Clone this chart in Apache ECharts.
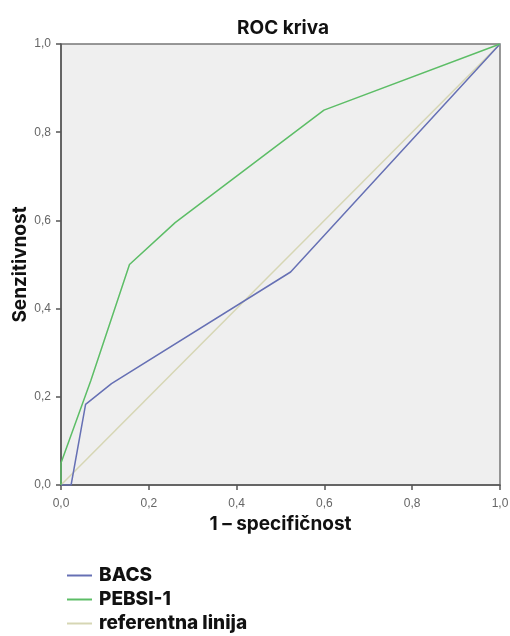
<!DOCTYPE html>
<html><head><meta charset="utf-8">
<script src="https://cdn.jsdelivr.net/npm/echarts@6/dist/echarts.min.js"></script>
<style>html,body{margin:0;padding:0;background:#fff}#c{width:510px;height:636px}</style>
</head><body><div id="c"></div>
<script>
const bacsX = [0, 0.023, 0.056, 0.115, 0.523, 1];
const bacsY = [0, 0, 0.183, 0.23, 0.483, 1];
const pebsiX = [0, 0, 0.068, 0.156, 0.26, 0.599, 1];
const pebsiY = [0, 0.05, 0.237, 0.5, 0.595, 0.85, 1];
const refX = [0, 1];
const refY = [0, 1];
const seriesNames = ['BACS', 'PEBSI-1', 'referentna linija'];
const zip = (xs, ys) => xs.map((x, i) => [x, ys[i]]);
const fmt = v => v.toFixed(1).replace('.', ',');
const colors = ['#6670b4', '#5cbd66', '#d6d6b4'];

const chart = echarts.init(document.getElementById('c'));
const axisCommon = {
  type: 'value', min: 0, max: 1, interval: 0.2,
  axisLine: {show: true, lineStyle: {color: '#555', width: 1.5}},
  axisTick: {show: true, length: 5, lineStyle: {color: '#555', width: 1.5}},
  splitLine: {show: false},
  axisLabel: {formatter: fmt, color: '#666', fontSize: 12, fontFamily: 'Liberation Sans'},
  nameLocation: 'middle',
  nameTextStyle: {fontFamily: 'Inter', fontWeight: 'bold', color: '#111', fontSize: 19}
};
chart.setOption({
  animation: false,
  title: {text: 'ROC kriva', left: 278, textAlign: 'center', top: 14,
    textStyle: {fontFamily: 'Inter', fontWeight: 'bold', fontSize: 19, color: '#111'}},
  grid: {left: 61, right: 10, top: 44, bottom: 151, show: true, outerBoundsMode: 'none', containLabel: false,
    backgroundColor: '#efefef', borderColor: '#777', borderWidth: 1.5},
  xAxis: Object.assign({}, axisCommon, {name: '1 – specifičnost', nameGap: 30,
    axisLabel: Object.assign({}, axisCommon.axisLabel, {margin: 13})}),
  yAxis: Object.assign({}, axisCommon, {name: 'Senzitivnost', nameGap: 31, nameMoveOverlap: false,
    axisLabel: Object.assign({}, axisCommon.axisLabel, {margin: 10})}),
  legend: {orient: 'vertical', left: 67, top: 566, height: 80, itemGap: 5, padding: 0,
    itemWidth: 25, itemHeight: 2, icon: 'rect',
    data: seriesNames.map((n, i) => ({name: n, itemStyle: {color: colors[i]}})),
    textStyle: {fontFamily: 'Inter', fontWeight: 800, fontSize: 19, color: '#111', padding: [0, 0, 0, 2]}},
  series: [
    {name: seriesNames[0], type: 'line', data: zip(bacsX, bacsY), symbol: 'none',
      lineStyle: {color: colors[0], width: 1.5}, itemStyle: {color: colors[0]}},
    {name: seriesNames[1], type: 'line', data: zip(pebsiX, pebsiY), symbol: 'none',
      lineStyle: {color: colors[1], width: 1.5}, itemStyle: {color: colors[1]}},
    {name: seriesNames[2], type: 'line', data: zip(refX, refY), symbol: 'none', z: 1,
      lineStyle: {color: colors[2], width: 1.5}, itemStyle: {color: colors[2]}}
  ]
});
</script></body></html>
